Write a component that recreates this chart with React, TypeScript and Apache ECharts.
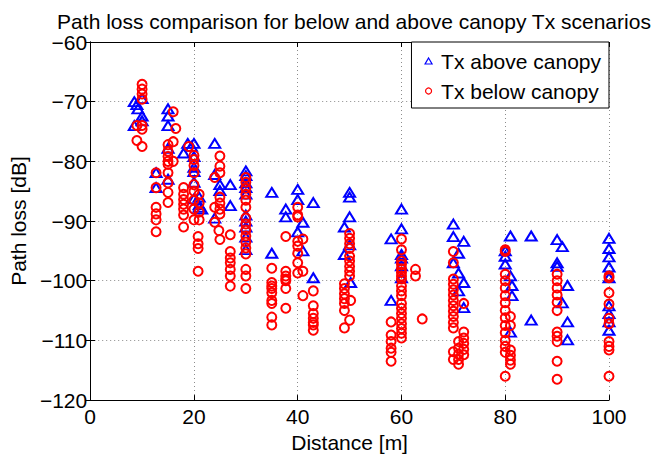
import React, { useEffect, useRef } from "react";
import * as echarts from "echarts";

const titleText = "Path loss comparison for below and above canopy Tx scenarios";
const xLabel = "Distance [m]";
const yLabel = "Path loss [dB]";
const seriesNames = ["Tx above canopy", "Tx below canopy"];

// [distance m, path loss dB]
const aboveCanopy: [number, number][] = [
  [8.5, -70.0], [8.5, -74.0], [9, -70.5], [9.2, -71.2], [10, -69.5], [10, -72.4], [10, -73.2],
  [12.7, -81.9], [12.7, -84.4],
  [15, -71.2], [15, -72.4], [15, -74.0], [15, -77.8], [15, -83.0],
  [18, -78.6], [18.8, -77.0], [19.5, -77.5], [20, -77.0], [20, -79.2], [20, -81.0], [20, -81.7], [20, -83.5], [20, -86.3],
  [21, -86.0], [21, -87.3], [21, -87.7], [21.5, -88.0],
  [24, -77.0], [24, -82.2], [24, -89.5], [25, -83.9], [25, -84.9],
  [27, -83.9], [27, -87.4],
  [30, -81.6], [30, -82.4], [30, -83.6], [30, -84.4], [30, -85.5], [30, -89.0], [30, -90.0], [30, -91.0], [30, -92.7], [30, -94.8],
  [35, -85.2], [35, -95.4],
  [37.7, -88.0], [37.7, -89.3],
  [40, -84.7], [40, -86.4], [40, -91.8],
  [41, -90.2], [41, -95.0],
  [43, -86.9], [43, -99.5],
  [49, -91.0], [49, -95.6], [50, -85.2], [50, -86.0], [50, -89.3], [50, -94.0], [50.2, -100.3],
  [58, -93.0], [58, -103.3],
  [60, -88.0], [60, -91.3], [60, -95.6], [60, -96.2], [60, -97.5], [60, -99.5],
  [70, -90.5], [70, -92.6], [70, -97.0],
  [71, -95.4], [71, -98.7], [71, -101.7],
  [72, -93.4], [72, -100.3], [72, -104.5],
  [80, -95.0], [80, -95.9], [80, -97.2],
  [81, -92.5], [81, -99.2], [81.3, -100.8], [81.3, -102.5], [81, -108.6],
  [85, -92.5], [85, -106.6],
  [90, -93.1], [90, -97.0], [90, -97.6],
  [91, -94.3], [91, -103.7],
  [92, -100.8], [92, -106.9], [92, -109.9],
  [100, -92.9], [100, -94.6], [100, -96.0], [100, -97.7], [100, -99.5], [100, -104.2], [100, -105.5], [100, -106.9], [100, -108.3],
];

const belowCanopy: [number, number][] = [
  [9, -74.0], [9, -76.5],
  [10, -67.1], [10, -67.9], [10, -68.7], [10, -69.6], [10, -74.0], [10, -74.6], [10, -77.5],
  [12.7, -81.9], [12.7, -84.4], [12.7, -87.7], [12.7, -88.8], [12.7, -89.8], [12.7, -91.8],
  [15, -77.2], [15, -78.3], [15, -79.2], [15, -80.0], [15, -80.5], [15, -81.9], [15, -83.6], [15, -85.2], [15, -86.9],
  [16, -71.7], [16, -76.7], [16, -80.0], [16.5, -74.5],
  [18, -84.4], [18, -85.5], [18, -86.4], [18, -87.2], [18, -88.0], [18, -89.0], [18, -91.0],
  [19, -77.5],
  [20, -79.0], [20, -79.7], [20, -80.7], [20, -81.9], [20, -83.9], [20, -85.0], [20, -86.5], [20, -88.0], [20, -89.8],
  [21, -85.5], [21, -87.0], [21, -88.5], [21, -89.8], [20.8, -92.6], [20.8, -93.8], [20.8, -94.6], [20.8, -98.4],
  [24, -82.7], [24, -87.7], [24, -90.2],
  [25, -79.1], [25, -80.8], [25, -81.9], [25, -86.0], [25, -87.0], [25, -88.0], [25, -88.8], [24.8, -91.6], [25, -93.1],
  [27, -92.3], [27, -95.1], [27, -96.2], [27, -97.0], [27, -98.1], [27, -99.2], [27, -100.9],
  [30, -82.7], [30, -83.5], [30, -84.5], [30, -85.5], [30, -86.5], [30, -87.7], [30, -89.5], [30, -90.5], [30, -91.5], [30, -92.5], [30, -93.5], [30, -94.5], [30, -95.5], [30, -98.1], [30, -99.2], [30, -101.3],
  [35, -97.9], [35, -100.3], [35, -100.9], [35, -101.3], [35, -102.0], [35, -103.3], [35, -103.8], [35, -106.1], [35, -107.4],
  [37.7, -92.6], [37.7, -98.4], [37.7, -99.2], [37.7, -99.7], [37.7, -100.0], [37.7, -101.3], [37.7, -104.6],
  [40, -87.7], [40, -89.0], [40, -89.3], [40, -93.4], [40, -94.2], [40, -95.4], [40, -97.0], [40, -98.7],
  [41, -93.0], [41, -98.4], [41, -102.5],
  [43, -101.7], [43, -104.2], [43, -105.5], [43, -106.3], [43, -107.0], [43, -107.4], [43, -108.3],
  [49, -100.5], [49, -101.3], [49, -102.2], [49, -103.0], [49, -103.8], [49, -105.0], [49, -107.9],
  [50, -92.1], [50, -92.9], [50, -93.8], [50, -94.6], [50, -95.9], [50, -96.7], [50, -97.6], [50, -98.4], [50, -99.2], [50.2, -103.3], [50, -106.6],
  [58, -106.9], [58, -109.1], [58, -110.2], [58, -111.3], [58, -112.0], [58, -113.5],
  [60, -93.0], [60, -94.8], [60, -96.7], [60, -97.3], [60, -98.0], [60, -98.6], [60, -99.2], [60, -99.7], [60, -100.9], [60, -101.7], [60, -102.5], [60, -103.8], [60, -104.6], [60, -105.5], [60, -106.3], [60, -107.2], [60, -108.0], [60, -108.8], [60, -109.6],
  [62.7, -98.1], [62.7, -99.2], [64, -106.4],
  [70, -95.1], [70, -97.0], [70, -99.7], [70, -100.6], [70, -101.5], [70, -102.4], [70, -103.3], [70, -104.2], [70, -105.1], [70, -106.0], [70, -107.0], [70, -107.9], [70, -111.9], [70, -113.2],
  [71, -110.2], [71, -111.3], [71, -112.3], [71, -113.2], [71, -114.0],
  [72, -103.8], [72, -108.6], [72, -109.6], [72, -110.5], [72, -111.5], [72, -112.4],
  [80, -94.8], [80, -95.1], [80, -98.9], [80, -100.0], [80, -101.2], [80, -102.5], [80, -103.7], [80, -105.0], [80, -106.2], [80, -107.5], [80, -108.7], [80, -110.0], [80, -111.0], [80, -112.0], [80, -116.0],
  [81, -106.0], [81, -107.5], [81, -111.6], [81, -112.5], [81, -113.3], [81, -114.0],
  [90, -98.9], [90, -100.0], [90, -101.2], [90, -102.4], [90, -103.6], [90, -105.0], [90, -108.6], [90, -109.3], [90, -110.2], [90, -113.5], [90, -116.5],
  [100, -99.2], [100, -99.5], [100, -102.0], [100, -103.9], [100, -106.3], [100, -107.2], [100, -110.2], [100, -111.0], [100, -111.6], [100, -116.0],
];

const X_MIN = 0, X_MAX = 100, X_STEP = 20;
const Y_MIN = -120, Y_MAX = -60, Y_STEP = 10;

const FONT = "'Liberation Sans', Arial, Helvetica, sans-serif";
const BLUE = "#0000ff";
const RED = "#ff0000";

export default function App() {
  const ref = useRef<HTMLDivElement>(null);
  useEffect(() => {
    if (!ref.current) return;
    const chart = echarts.init(ref.current, undefined, { renderer: "svg" });
    const tickStyle = { inside: true, length: 5, lineStyle: { color: "#000", width: 1 } };
    const axisLine = { show: true, lineStyle: { color: "#000", width: 1 } };
    chart.setOption({
      animation: false,
      backgroundColor: "#fff",
      textStyle: { fontFamily: FONT },
      title: {
        text: titleText,
        left: 349,
        top: 6,
        textAlign: "center",
        textStyle: { fontFamily: FONT, fontSize: 21, fontWeight: "normal", color: "#000" },
      },
      grid: { left: 89, top: 42, right: 48, bottom: 52, show: false },
      legend: {
        orient: "vertical",
        right: 48,
        top: 42,
        backgroundColor: "#fff",
        borderColor: "#000",
        borderWidth: 1,
        padding: [7, 8, 5, 13],
        itemGap: 6,
        itemWidth: 7,
        itemHeight: 6,
        symbolKeepAspect: true,
        textStyle: { fontFamily: FONT, fontSize: 21, color: "#000", lineHeight: 24, padding: [0, 0, 0, 4] },
        data: [
          { name: seriesNames[0], icon: "triangle", itemStyle: { color: "rgba(0,0,0,0)", borderColor: BLUE, borderWidth: 1.2 } },
          { name: seriesNames[1], icon: "circle", itemStyle: { color: "rgba(0,0,0,0)", borderColor: RED, borderWidth: 1.2 } },
        ],
      },
      xAxis: [
        {
          type: "value",
          min: X_MIN,
          max: X_MAX,
          interval: X_STEP,
          position: "bottom",
          name: xLabel,
          nameLocation: "middle",
          nameGap: 25,
          nameTextStyle: { fontFamily: FONT, fontSize: 21, color: "#000" },
          axisLine,
          axisTick: tickStyle,
          axisLabel: { fontFamily: FONT, fontSize: 21, color: "#000", margin: 6 },
          splitLine: { show: true, lineStyle: { type: [1, 3], color: "#8c8c8c", width: 1 } },
        },
        {
          type: "value",
          min: X_MIN,
          max: X_MAX,
          interval: X_STEP,
          position: "top",
          axisLine,
          axisTick: tickStyle,
          axisLabel: { show: false },
          splitLine: { show: false },
        },
      ],
      yAxis: [
        {
          type: "value",
          min: Y_MIN,
          max: Y_MAX,
          interval: Y_STEP,
          position: "left",
          name: yLabel,
          nameLocation: "middle",
          nameGap: 54,
          nameTextStyle: { fontFamily: FONT, fontSize: 21, color: "#000" },
          axisLine,
          axisTick: tickStyle,
          axisLabel: {
            fontFamily: FONT,
            fontSize: 21,
            color: "#000",
            margin: 3,
            formatter: (v: number) => String(v).replace("-", "\u2212"),
          },
          splitLine: { show: true, lineStyle: { type: [1, 3], color: "#8c8c8c", width: 1 } },
        },
        {
          type: "value",
          min: Y_MIN,
          max: Y_MAX,
          interval: Y_STEP,
          position: "right",
          axisLine,
          axisTick: tickStyle,
          axisLabel: { show: false },
          splitLine: { show: false },
        },
      ],
      series: [
        {
          name: seriesNames[0],
          type: "scatter",
          xAxisIndex: 0,
          yAxisIndex: 0,
          symbol: "triangle",
          symbolSize: [11, 9],
          itemStyle: { color: "rgba(0,0,0,0)", borderColor: BLUE, borderWidth: 2, opacity: 1 },
          emphasis: { disabled: true },
          data: aboveCanopy,
        },
        {
          name: seriesNames[1],
          type: "scatter",
          xAxisIndex: 0,
          yAxisIndex: 0,
          symbol: "circle",
          symbolSize: 9,
          itemStyle: { color: "rgba(0,0,0,0)", borderColor: RED, borderWidth: 2, opacity: 1 },
          emphasis: { disabled: true },
          data: belowCanopy,
        },
      ],
    });
    return () => chart.dispose();
  }, []);
  return (
    <div
      ref={ref}
      style={{ position: "fixed", left: 0, top: 0, width: 657, height: 458, background: "#fff" }}
    />
  );
}
